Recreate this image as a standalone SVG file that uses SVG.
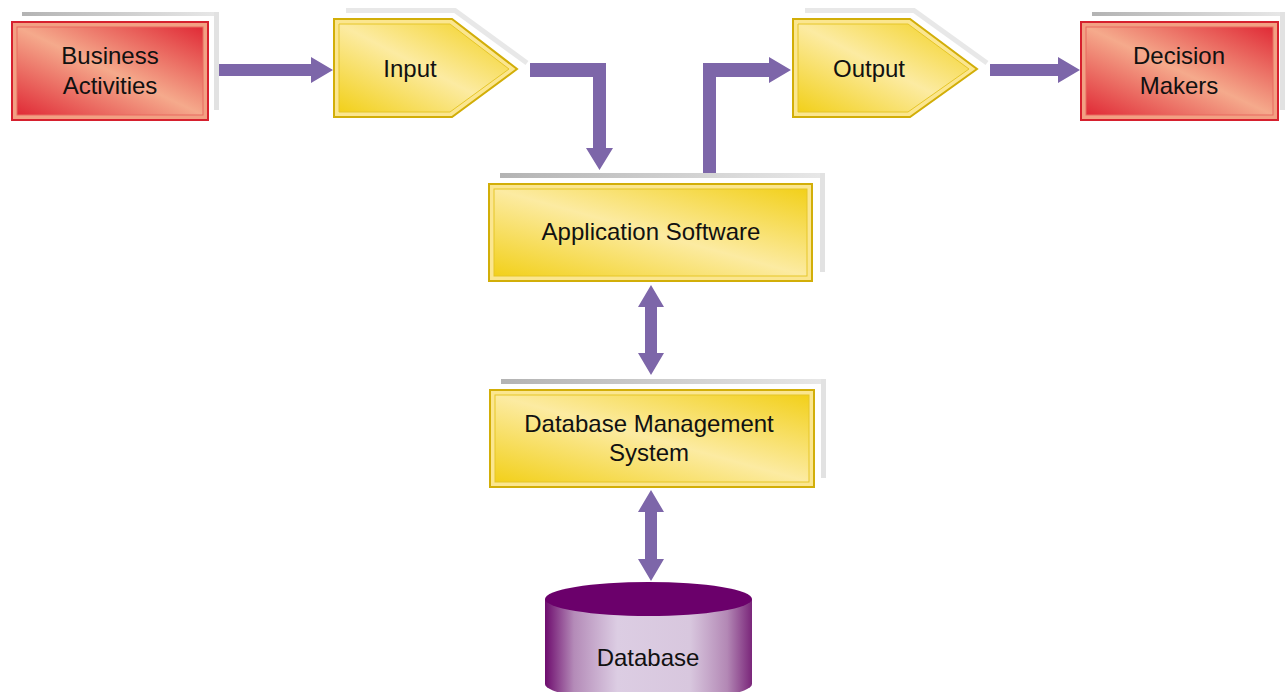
<svg xmlns="http://www.w3.org/2000/svg" width="1285" height="692" viewBox="0 0 1285 692">
<defs>
<linearGradient id="gy" x1="0" y1="1" x2="1" y2="0">
<stop offset="0" stop-color="#f2d01a"/><stop offset="0.5" stop-color="#fcebA2"/><stop offset="1" stop-color="#f2d01a"/>
</linearGradient>
<linearGradient id="gr" x1="0" y1="1" x2="1" y2="0">
<stop offset="0" stop-color="#e02a36"/><stop offset="0.5" stop-color="#f5aa8c"/><stop offset="1" stop-color="#e02a36"/>
</linearGradient>
<linearGradient id="gs" x1="0" y1="0" x2="1" y2="0">
<stop offset="0" stop-color="#b3b3b3"/><stop offset="1" stop-color="#e8e8e8"/>
</linearGradient>
<linearGradient id="gs2" gradientUnits="userSpaceOnUse" x1="0" y1="0" x2="200" y2="0">
<stop offset="0" stop-color="#b3b3b3"/><stop offset="1" stop-color="#e8e8e8"/>
</linearGradient>
<linearGradient id="gc" x1="0" y1="0" x2="1" y2="0">
<stop offset="0" stop-color="#6e0c6e"/><stop offset="0.14" stop-color="#b48bb8"/><stop offset="0.35" stop-color="#dccde3"/><stop offset="0.7" stop-color="#d8c7de"/><stop offset="0.88" stop-color="#b388b5"/><stop offset="1" stop-color="#7a267a"/>
</linearGradient>
</defs>
<style>
text{font-family:"Liberation Sans",Arial,sans-serif;font-size:24px;fill:#111;text-anchor:middle}
.sh{fill:url(#gs)}
.shr{fill:#e2e2e2}
.yo{fill:#fbe68f;stroke:#d2ae08;stroke-width:2}
.yi{fill:url(#gy);stroke:#e6c628;stroke-width:1}
.ro{fill:#f2a083;stroke:#d6202e;stroke-width:2}
.ri{fill:url(#gr);stroke:#e86a60;stroke-width:1}
.arr{fill:#7d66a9}
.psh{fill:none;stroke:url(#gs2);stroke-width:5}
</style>

<g id="business-activities">
<rect class="sh" x="22" y="12" width="197" height="4"/>
<rect class="shr" x="214" y="12" width="5" height="98"/>
<rect class="ro" x="12" y="22" width="196" height="98"/>
<rect class="ri" x="17" y="27" width="186" height="88"/>
<text x="110" y="64">Business</text>
<text x="110" y="94">Activities</text>
</g>

<g id="input">
<path class="psh" d="M346,10.5 H455 L527,63" stroke="#cfcfcf"/>
<polygon class="yo" points="334,19 452,19 517,69 452,117 334,117"/>
<polygon class="yi" points="339,24 450,24 509,69 450,112 339,112"/>
<text x="410" y="77">Input</text>
</g>

<g id="output">
<path class="psh" d="M805,10.5 H914 L987,63" stroke="#cfcfcf"/>
<polygon class="yo" points="793,19 910,19 977,69 910,117 793,117"/>
<polygon class="yi" points="798,24 908,24 969,69 908,112 798,112"/>
<text x="869" y="77">Output</text>
</g>

<g id="decision-makers">
<rect class="sh" x="1092" y="12" width="193" height="4"/>
<rect class="shr" x="1280" y="12" width="5" height="98"/>
<rect class="ro" x="1081" y="22" width="197" height="98"/>
<rect class="ri" x="1086" y="27" width="187" height="88"/>
<text x="1179" y="64">Decision</text>
<text x="1179" y="94">Makers</text>
</g>

<g id="application-software">
<rect class="sh" x="500" y="173" width="325" height="5"/>
<rect class="shr" x="820" y="173" width="5" height="99"/>
<rect class="yo" x="489" y="184" width="323" height="97"/>
<rect class="yi" x="494" y="189" width="313" height="87"/>
<text x="651" y="240">Application Software</text>
</g>

<g id="dbms">
<rect class="sh" x="501" y="379" width="325" height="5"/>
<rect class="shr" x="821" y="379" width="5" height="99"/>
<rect class="yo" x="490" y="390" width="324" height="97"/>
<rect class="yi" x="495" y="395" width="314" height="87"/>
<text x="649" y="432">Database Management</text>
<text x="649" y="461">System</text>
</g>

<g id="database">
<path d="M545,599 V684 A103.5,17 0 0 0 752,684 V599 Z" fill="url(#gc)"/>
<ellipse cx="648.5" cy="599" rx="103.5" ry="17" fill="#6b006b"/>
<text x="648" y="666">Database</text>
</g>

<g id="connectors">
<polygon class="arr" points="219,64 311,64 311,57 333,70 311,83 311,76 219,76"/>
<polygon class="arr" points="530,63 606,63 606,148 613,148 599.5,170 586,148 593,148 593,77 530,77"/>
<polygon class="arr" points="703,173 703,63 769,63 769,57 791,70 769,83 769,77 716,77 716,173"/>
<polygon class="arr" points="990,64 1058,64 1058,57 1080,70 1058,83 1058,76 990,76"/>
<polygon class="arr" points="651,285 664,307 657,307 657,353 664,353 651,375 638,353 645,353 645,307 638,307"/>
<polygon class="arr" points="651,490 664,512 657,512 657,559 664,559 651,581 638,559 645,559 645,512 638,512"/>
</g>
</svg>
